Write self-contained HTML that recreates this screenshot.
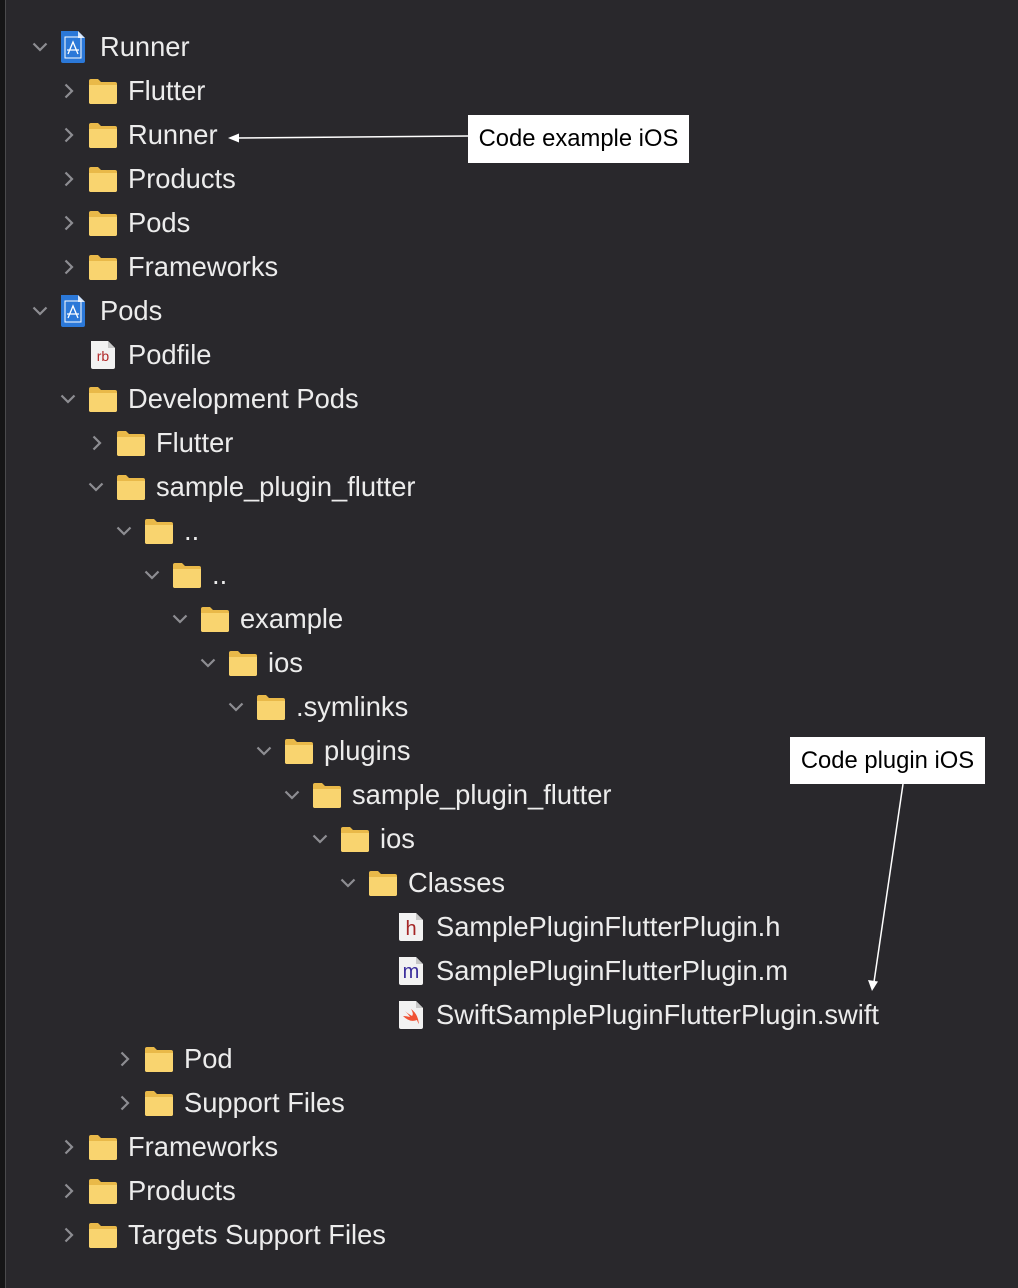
<!DOCTYPE html>
<html><head><meta charset="utf-8"><style>
html,body{margin:0;padding:0;}
body{width:1018px;height:1288px;background:#29282c;position:relative;overflow:hidden;font-family:"Liberation Sans",Arial,sans-serif;}
.strip{position:absolute;left:0;top:0;width:5px;height:1288px;background:#151516;}
.sline{position:absolute;left:5px;top:0;width:1px;height:1288px;background:#4a4a4c;}
.t{position:absolute;color:#ececec;font-size:27.3px;line-height:30px;white-space:nowrap;}
svg.i{position:absolute;}
.box{position:absolute;background:#fff;color:#000;font-size:23.8px;display:flex;align-items:center;justify-content:center;}
</style></head><body>
<div class="strip"></div><div class="sline"></div>
<div id="tree"></div>
<div class="box" style="left:468px;top:115px;width:221px;height:48px;">Code example iOS</div>
<div class="box" style="left:790px;top:737px;width:195px;height:47px;">Code plugin iOS</div>
<svg style="position:absolute;left:0;top:0" width="1018" height="1288">
<line x1="468" y1="136" x2="236" y2="138" stroke="#fff" stroke-width="1.5"/>
<polygon points="228,138 239,133.5 239,142.5" fill="#fff"/>
<line x1="903" y1="784" x2="874" y2="982" stroke="#fff" stroke-width="1.5"/>
<polygon points="872,991 868,980 878,981.5" fill="#fff"/>
</svg>
<script>
var rows=[
[0,"Runner","p","d"],[1,"Flutter","f","r"],[1,"Runner","f","r"],[1,"Products","f","r"],[1,"Pods","f","r"],[1,"Frameworks","f","r"],
[0,"Pods","p","d"],[1,"Podfile","rb",""],[1,"Development Pods","f","d"],[2,"Flutter","f","r"],[2,"sample_plugin_flutter","f","d"],
[3,"..","f","d"],[4,"..","f","d"],[5,"example","f","d"],[6,"ios","f","d"],[7,".symlinks","f","d"],[8,"plugins","f","d"],
[9,"sample_plugin_flutter","f","d"],[10,"ios","f","d"],[11,"Classes","f","d"],
[12,"SamplePluginFlutterPlugin.h","h",""],[12,"SamplePluginFlutterPlugin.m","m",""],[12,"SwiftSamplePluginFlutterPlugin.swift","s",""],
[3,"Pod","f","r"],[3,"Support Files","f","r"],[1,"Frameworks","f","r"],[1,"Products","f","r"],[1,"Targets Support Files","f","r"]];
var h="";
rows.forEach(function(r,i){
 var y=47+44*i,L=r[0],cx=40+28*L,ix=60+28*L,tx=100+28*L;
 if(r[3]=="d") h+='<svg class="i" style="left:'+(cx-8)+'px;top:'+(y-5)+'px" width="16" height="10"><polyline points="1.5,1.5 8,8 14.5,1.5" fill="none" stroke="#8d8d92" stroke-width="2.2"/></svg>';
 if(r[3]=="r") h+='<svg class="i" style="left:'+(cx-4)+'px;top:'+(y-8)+'px" width="10" height="16"><polyline points="1.5,1.5 8,8 1.5,14.5" fill="none" stroke="#8d8d92" stroke-width="2.2"/></svg>';
 var t=r[2];
 if(t=="f") h+='<svg class="i" style="left:'+ix+'px;top:'+(y-14)+'px" width="30" height="28"><path d="M1,4 Q1,2 3,2 L10,2 L13,5 L27,5 Q29,5 29,7 L29,25 Q29,27 27,27 L3,27 Q1,27 1,25 Z" fill="#e9b949"/><path d="M1,8 L29,8 L29,25 Q29,27 27,27 L3,27 Q1,27 1,25 Z" fill="#f9d46f"/></svg>';
 if(t=="p") h+='<svg class="i" style="left:'+ix+'px;top:'+(y-16)+'px" width="26" height="32"><path d="M1,0 L18,0 L25,7 L25,30 Q25,32 23,32 L3,32 Q1,32 1,30 Z" fill="#2b78d8"/><path d="M18,0 L18,7 L25,7 Z" fill="#d7e6fa"/><rect x="5" y="6" width="16" height="21" fill="none" stroke="#fff" stroke-width="1"/><path d="M8,23 L13,11 L18,23 M7,19 L19,19" stroke="#fff" stroke-width="1.3" fill="none"/></svg>';
 if(t=="rb"||t=="h"||t=="m"||t=="s"){
  var inner="";
  if(t=="rb") inner='<text x="13" y="20" font-size="14" fill="#b22a2a" text-anchor="middle" font-family="Liberation Sans">rb</text>';
  if(t=="h") inner='<text x="13" y="22" font-size="20" fill="#a52626" text-anchor="middle" font-family="Liberation Sans">h</text>';
  if(t=="m") inner='<text x="13" y="21" font-size="20" fill="#3b2e9c" text-anchor="middle" font-family="Liberation Sans">m</text>';
  if(t=="s") inner='<path d="M5,15 Q12,22 19,19 Q20,22 21,23 Q20,13 13,8 Q16,13 14,15 Q9,12 7,10 Q11,14 12,16 Q8,15 5,15Z" fill="#f05133"/>';
  h+='<svg class="i" style="left:'+(ix+2)+'px;top:'+(y-14)+'px" width="26" height="28"><path d="M1,0 L18,0 L25,7 L25,26 Q25,28 23,28 L3,28 Q1,28 1,26 Z" fill="#f2f2f2"/><path d="M18,0 L18,7 L25,7 Z" fill="#c8c8c8"/>'+inner+'</svg>';
 }
 h+='<div class="t" style="left:'+tx+'px;top:'+(y-15)+'px">'+r[1]+'</div>';
});
document.getElementById("tree").innerHTML=h;
</script>
</body></html>
